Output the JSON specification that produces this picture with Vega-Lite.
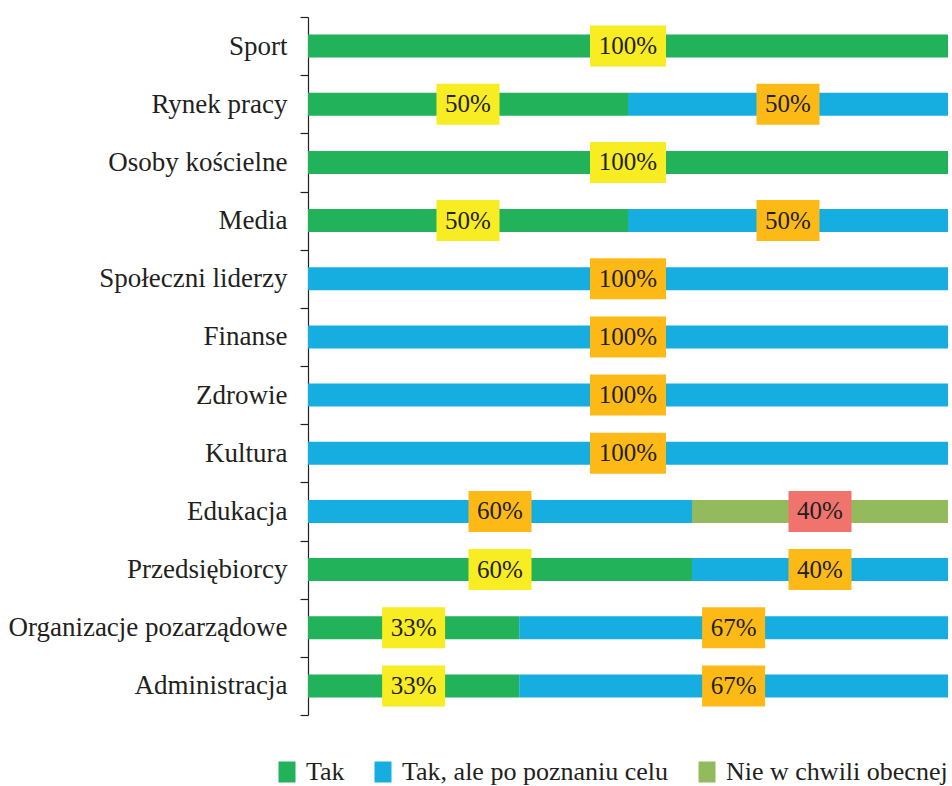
{
  "$schema": "https://vega.github.io/schema/vega-lite/v6.json",
  "autosize": {"type": "none"},
  "width": 640,
  "height": 698,
  "padding": {"left": 308, "top": 17, "right": 4, "bottom": 71},
  "background": "white",
  "data": {
    "values": [
      {"category": "Sport", "series": "Tak", "k": 1, "value": 100, "label": "100%"},
      {"category": "Rynek pracy", "series": "Tak", "k": 1, "value": 50, "label": "50%"},
      {"category": "Rynek pracy", "series": "Tak, ale po poznaniu celu", "k": 2, "value": 50, "label": "50%"},
      {"category": "Osoby kościelne\u00a0", "series": "Tak", "k": 1, "value": 100, "label": "100%"},
      {"category": "Media", "series": "Tak", "k": 1, "value": 50, "label": "50%"},
      {"category": "Media", "series": "Tak, ale po poznaniu celu", "k": 2, "value": 50, "label": "50%"},
      {"category": "Społeczni liderzy\u00a0", "series": "Tak, ale po poznaniu celu", "k": 2, "value": 100, "label": "100%"},
      {"category": "Finanse", "series": "Tak, ale po poznaniu celu", "k": 2, "value": 100, "label": "100%"},
      {"category": "Zdrowie", "series": "Tak, ale po poznaniu celu", "k": 2, "value": 100, "label": "100%"},
      {"category": "Kultura", "series": "Tak, ale po poznaniu celu", "k": 2, "value": 100, "label": "100%"},
      {"category": "Edukacja", "series": "Tak, ale po poznaniu celu", "k": 2, "value": 60, "label": "60%"},
      {"category": "Edukacja", "series": "Nie w chwili obecnej", "k": 3, "value": 40, "label": "40%"},
      {"category": "Przedsiębiorcy", "series": "Tak", "k": 1, "value": 60, "label": "60%"},
      {"category": "Przedsiębiorcy", "series": "Tak, ale po poznaniu celu", "k": 2, "value": 40, "label": "40%"},
      {"category": "Organizacje pozarządowe", "series": "Tak", "k": 1, "value": 33, "label": "33%"},
      {"category": "Organizacje pozarządowe", "series": "Tak, ale po poznaniu celu", "k": 2, "value": 67, "label": "67%"},
      {"category": "Administracja", "series": "Tak", "k": 1, "value": 33, "label": "33%"},
      {"category": "Administracja", "series": "Tak, ale po poznaniu celu", "k": 2, "value": 67, "label": "67%"}
    ]
  },
  "transform": [
    {"stack": "value", "groupby": ["category"], "sort": [{"field": "k", "order": "ascending"}], "as": ["x0", "x1"]},
    {"calculate": "(datum.x0 + datum.x1) / 2", "as": "mid"}
  ],
  "encoding": {
    "y": {
      "field": "category",
      "type": "nominal",
      "sort": null,
      "scale": {"paddingInner": 0, "paddingOuter": 0},
      "axis": {
        "title": null,
        "tickBand": "extent",
        "tickSize": 8,
        "tickColor": "#231F20",
        "domainColor": "#231F20",
        "tickWidth": 1.2,
        "domainWidth": 1.2,
        "labelPadding": 13,
        "labelFont": "'Liberation Serif', 'Times New Roman', serif",
        "labelFontSize": 27,
        "labelColor": "#231F20",
        "labelLimit": 400,
        "grid": false
      }
    }
  },
  "layer": [
    {
      "mark": {"type": "bar", "orient": "horizontal", "height": {"band": 0.395}},
      "encoding": {
        "x": {"field": "x0", "type": "quantitative", "scale": {"domain": [0, 100], "nice": false}, "axis": null},
        "x2": {"field": "x1"},
        "color": {
          "field": "series",
          "type": "nominal",
          "scale": {
            "domain": ["Tak", "Tak, ale po poznaniu celu", "Nie w chwili obecnej"],
            "range": ["#22B259", "#16ADE1", "#94BA5E"]
          },
          "legend": {
            "title": null,
            "orient": "none",
            "direction": "horizontal",
            "legendX": -34,
            "legendY": 742,
            "columnPadding": 25,
            "symbolType": "M-0.81,-1L0.81,-1L0.81,1L-0.81,1Z",
            "symbolSize": 441,
            "symbolStrokeWidth": 0,
            "symbolOpacity": 1,
            "labelOffset": 6,
            "labelFont": "'Liberation Serif', 'Times New Roman', serif",
            "labelFontSize": 26,
            "labelColor": "#231F20",
            "labelLimit": 400
          }
        }
      }
    },
    {
      "transform": [{"filter": "datum.label == '100%'"}],
      "mark": {"type": "point", "filled": true, "opacity": 1, "shape": "M-1,-0.54L1,-0.54L1,0.54L-1,0.54Z", "size": 5776, "strokeWidth": 0},
      "encoding": {
        "x": {"field": "mid", "type": "quantitative"},
        "fill": {
          "field": "series",
          "type": "nominal",
          "scale": {
            "domain": ["Tak", "Tak, ale po poznaniu celu", "Nie w chwili obecnej"],
            "range": ["#F8EC22", "#FDBA16", "#F1736E"]
          },
          "legend": null
        }
      }
    },
    {
      "transform": [{"filter": "datum.label != '100%'"}],
      "mark": {"type": "point", "filled": true, "opacity": 1, "shape": "M-1,-0.651L1,-0.651L1,0.651L-1,0.651Z", "size": 3969, "strokeWidth": 0},
      "encoding": {
        "x": {"field": "mid", "type": "quantitative"},
        "fill": {
          "field": "series",
          "type": "nominal",
          "scale": {
            "domain": ["Tak", "Tak, ale po poznaniu celu", "Nie w chwili obecnej"],
            "range": ["#F8EC22", "#FDBA16", "#F1736E"]
          },
          "legend": null
        }
      }
    },
    {
      "mark": {"type": "text", "font": "'Liberation Serif', 'Times New Roman', serif", "fontSize": 25, "color": "#231F20", "baseline": "middle", "align": "center"},
      "encoding": {
        "x": {"field": "mid", "type": "quantitative"},
        "text": {"field": "label"}
      }
    }
  ],
  "config": {
    "view": {"stroke": null}
  }
}
